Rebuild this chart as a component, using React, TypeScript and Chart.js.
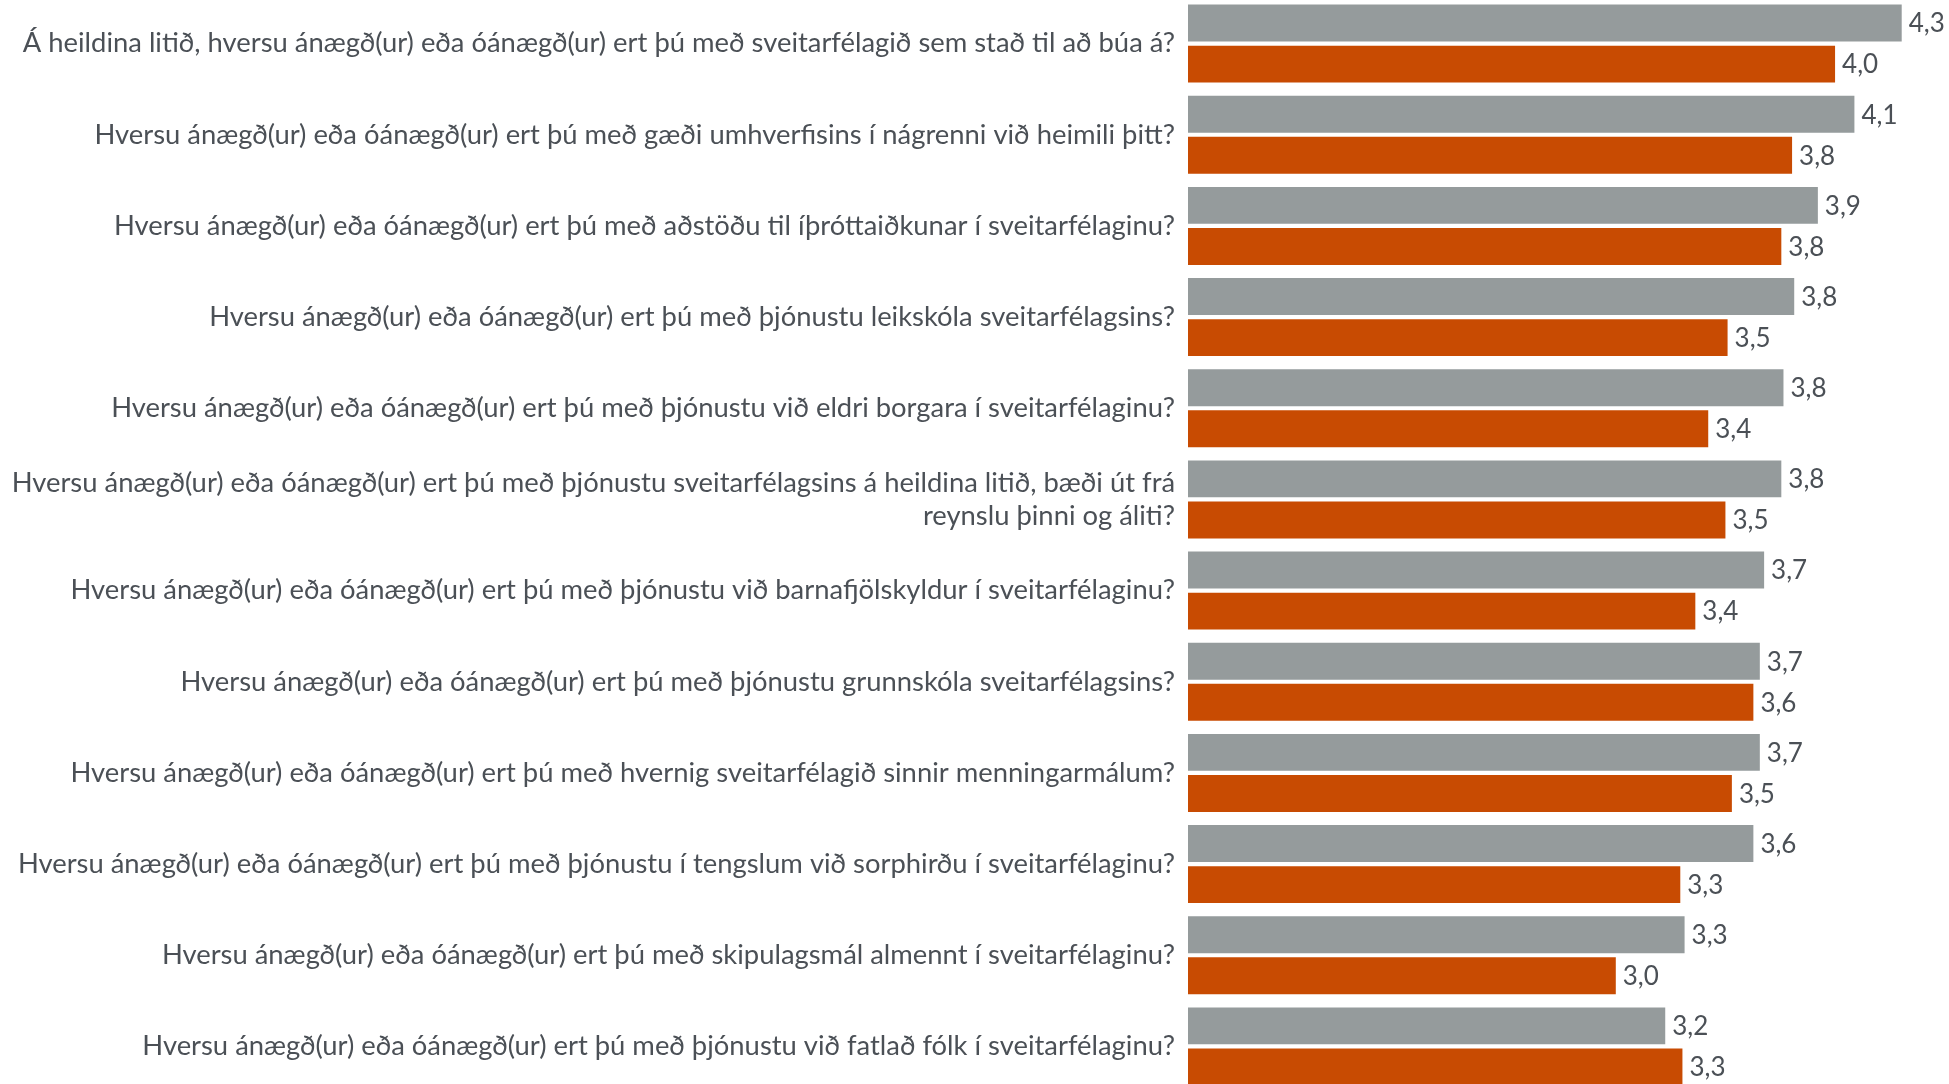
import { useEffect, useRef } from 'react';
import { Chart, registerables } from 'chart.js';

Chart.register(...registerables);

const categories: (string | string[])[] = [
  'Á heildina litið, hversu ánægð(ur) eða óánægð(ur) ert þú með sveitarfélagið sem stað til að búa á?',
  'Hversu ánægð(ur) eða óánægð(ur) ert þú með gæði umhverfisins í nágrenni við heimili þitt?',
  'Hversu ánægð(ur) eða óánægð(ur) ert þú með aðstöðu til íþróttaiðkunar í sveitarfélaginu?',
  'Hversu ánægð(ur) eða óánægð(ur) ert þú með þjónustu leikskóla sveitarfélagsins?',
  'Hversu ánægð(ur) eða óánægð(ur) ert þú með þjónustu við eldri borgara í sveitarfélaginu?',
  [
    'Hversu ánægð(ur) eða óánægð(ur) ert þú með þjónustu sveitarfélagsins á heildina litið, bæði út frá',
    'reynslu þinni og áliti?',
  ],
  'Hversu ánægð(ur) eða óánægð(ur) ert þú með þjónustu við barnafjölskyldur í sveitarfélaginu?',
  'Hversu ánægð(ur) eða óánægð(ur) ert þú með þjónustu grunnskóla sveitarfélagsins?',
  'Hversu ánægð(ur) eða óánægð(ur) ert þú með hvernig sveitarfélagið sinnir menningarmálum?',
  'Hversu ánægð(ur) eða óánægð(ur) ert þú með þjónustu í tengslum við sorphirðu í sveitarfélaginu?',
  'Hversu ánægð(ur) eða óánægð(ur) ert þú með skipulagsmál almennt í sveitarfélaginu?',
  'Hversu ánægð(ur) eða óánægð(ur) ert þú með þjónustu við fatlað fólk í sveitarfélaginu?',
];

const seriesGrey = [4.32, 4.1, 3.93, 3.82, 3.77, 3.76, 3.68, 3.66, 3.66, 3.63, 3.31, 3.22];
const seriesOrange = [4.01, 3.81, 3.76, 3.51, 3.42, 3.5, 3.36, 3.63, 3.53, 3.29, 2.99, 3.3];

const FONT = 'Lato, "Noto Sans", sans-serif';
const TEXT_COLOR = '#4b5056';

export default function App() {
  const ref = useRef<HTMLCanvasElement>(null);

  useEffect(() => {
    const valueLabels = {
      id: 'valueLabels',
      afterDatasetsDraw(chart: any) {
        const ctx = chart.ctx;
        ctx.save();
        ctx.font = `26px ${FONT}`;
        ctx.fillStyle = TEXT_COLOR;
        ctx.textAlign = 'left';
        ctx.textBaseline = 'middle';
        chart.data.datasets.forEach((ds: any, i: number) => {
          const meta = chart.getDatasetMeta(i);
          meta.data.forEach((el: any, j: number) => {
            const v = ds.data[j] as number;
            ctx.fillText(v.toFixed(1).replace('.', ','), el.x + 7, el.y + 1);
          });
        });
        ctx.restore();
      },
    };

    const chart = new Chart(ref.current!, {
      type: 'bar',
      data: {
        labels: categories,
        datasets: [
          {
            label: 'Heild',
            data: seriesGrey,
            backgroundColor: '#959b9c',
            categoryPercentage: 0.9,
            barPercentage: 0.9,
          },
          {
            label: 'Sveitarfélag',
            data: seriesOrange,
            backgroundColor: '#c84b02',
            categoryPercentage: 0.9,
            barPercentage: 0.9,
          },
        ],
      },
      options: {
        indexAxis: 'y',
        responsive: false,
        maintainAspectRatio: false,
        animation: false,
        layout: { padding: 0 },
        plugins: {
          legend: { display: false },
          tooltip: { enabled: false },
        },
        scales: {
          x: { display: false, min: 1, max: 4.54 },
          y: {
            grid: { display: false, drawTicks: false },
            border: { display: false },
            ticks: {
              autoSkip: false,
              padding: 13,
              color: TEXT_COLOR,
              font: { family: FONT, size: 27.4, lineHeight: 1.2 },
            },
            afterFit(scale: any) {
              scale.width = 1188;
              scale.paddingTop = 0;
              scale.paddingBottom = 0;
            },
          },
        },
      },
      plugins: [valueLabels],
    });
    return () => chart.destroy();
  }, []);

  return (
    <div
      style={{
        position: 'fixed',
        left: 0,
        top: 0,
        width: 1949,
        height: 1084,
        overflow: 'hidden',
        background: '#ffffff',
      }}
    >
      <canvas
        ref={ref}
        width={1949}
        height={1094}
        style={{ position: 'absolute', left: 0, top: -2 }}
      />
    </div>
  );
}
